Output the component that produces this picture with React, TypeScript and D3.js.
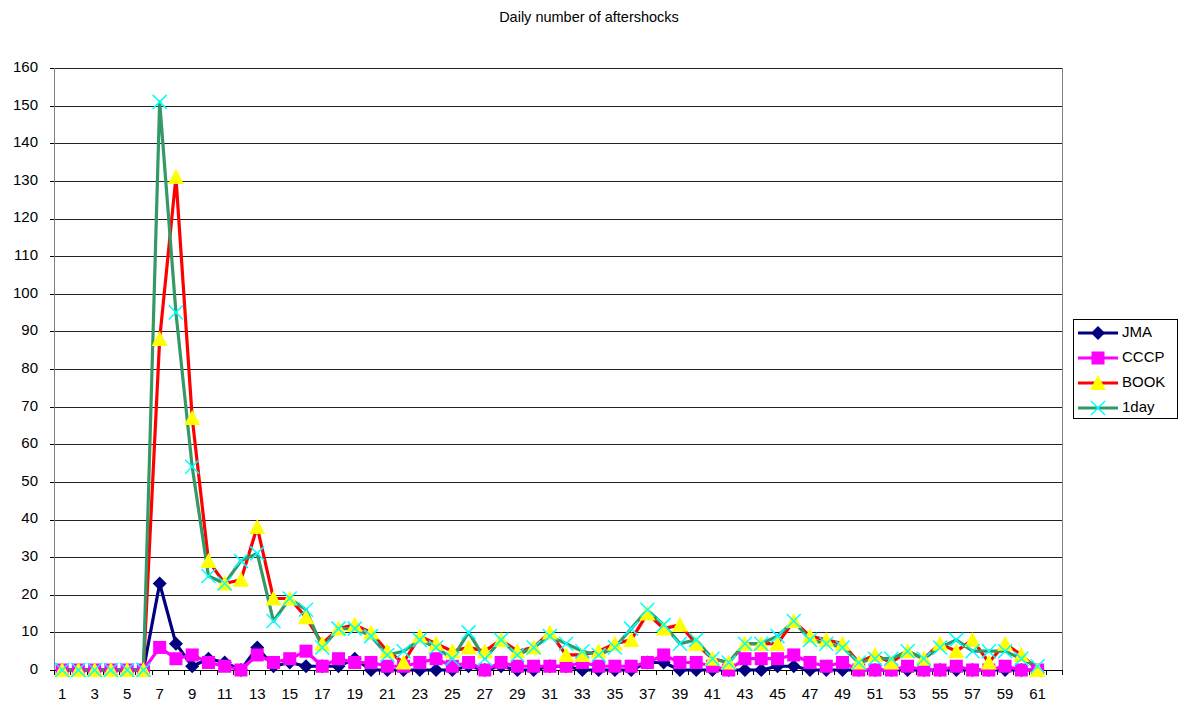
import React from "react";
import * as d3 from "d3";

// Day index along the x axis (one spare slot at the end, as in the sheet)
const categories: number[] = d3.range(1, 63);
const tickLabels: number[] = d3.range(1, 62, 2);
const yTicks: number[] = d3.range(0, 161, 10);

const jma: number[] = [
  0, 0, 0, 0, 0, 0, 23, 7, 1, 3, 2, 0, 6, 1, 2, 1, 1, 1, 3, 0,
  0, 0, 0, 0, 0, 1, 0, 1, 0, 0, 1, 1, 0, 0, 0, 0, 2, 2, 0, 0,
  0, 0, 0, 0, 1, 1, 0, 0, 0, 0, 0, 0, 0, 0, 0, 0, 0, 0, 0, 0, 0,
];
const cccp: number[] = [
  0, 0, 0, 0, 0, 0, 6, 3, 4, 2, 1, 0, 4, 2, 3, 5, 1, 3, 2, 2,
  1, 1, 2, 3, 1, 2, 0, 2, 1, 1, 1, 1, 2, 1, 1, 1, 2, 4, 2, 2,
  1, 0, 3, 3, 3, 4, 2, 1, 2, 0, 0, 0, 1, 0, 0, 1, 0, 0, 1, 0, 0,
];
const book: number[] = [
  0, 0, 0, 0, 0, 0, 88, 131, 67, 29, 23, 24, 38, 19, 19, 14, 7, 11, 12, 10,
  5, 2, 9, 7, 5, 6, 5, 8, 5, 6, 10, 4, 4, 5, 7, 8, 15, 11, 12, 7,
  3, 2, 7, 7, 7, 13, 9, 8, 7, 2, 4, 2, 5, 3, 7, 5, 8, 2, 7, 4, 0,
];
const oneDay: number[] = [
  0, 0, 0, 0, 0, 0, 151, 95, 54, 25, 23, 29, 31, 13, 19, 16, 6, 11, 11, 9,
  4, 5, 8, 6, 3, 10, 3, 8, 4, 6, 9, 7, 5, 4, 6, 11, 16, 12, 7, 8,
  3, 2, 7, 7, 9, 13, 8, 7, 6, 2, 3, 3, 5, 3, 6, 8, 5, 5, 5, 3, 1,
];

type MarkerKind = "diamond" | "square" | "triangle" | "cross";
interface Series {
  name: string;
  values: number[];
  line: string;
  marker: MarkerKind;
  fill: string;
}

const series: Series[] = [
  { name: "JMA", values: jma, line: "#000080", marker: "diamond", fill: "#000080" },
  { name: "CCCP", values: cccp, line: "#FF00FF", marker: "square", fill: "#FF00FF" },
  { name: "BOOK", values: book, line: "#FF0000", marker: "triangle", fill: "#FFFF00" },
  { name: "1day", values: oneDay, line: "#339966", marker: "cross", fill: "#00FFFF" },
];

const W = 1178;
const H = 707;
const plot = { left: 54, right: 1062, top: 68, bottom: 670 };
const FONT = "'Liberation Sans', Arial, sans-serif";

const x = d3
  .scaleBand<number>()
  .domain(categories)
  .range([plot.left, plot.right])
  .paddingInner(0)
  .paddingOuter(0);
const xc = (c: number) => (x(c) as number) + x.bandwidth() / 2;
const y = d3.scaleLinear().domain([0, 160]).range([plot.bottom, plot.top]);

function Marker({ kind, cx, cy, fill }: { kind: MarkerKind; cx: number; cy: number; fill: string }) {
  switch (kind) {
    case "diamond":
      return (
        <path
          d={`M${cx},${cy - 7}L${cx + 7},${cy}L${cx},${cy + 7}L${cx - 7},${cy}Z`}
          fill={fill}
        />
      );
    case "square":
      return <rect x={cx - 6.5} y={cy - 6.5} width={13} height={13} fill={fill} />;
    case "triangle":
      return (
        <path
          d={`M${cx},${cy - 8}L${cx + 8},${cy + 7}L${cx - 8},${cy + 7}Z`}
          fill={fill}
        />
      );
    case "cross":
      return (
        <path
          d={`M${cx - 7},${cy - 7}L${cx + 7},${cy + 7}M${cx - 7},${cy + 7}L${cx + 7},${cy - 7}`}
          stroke={fill}
          strokeWidth={1.5}
          fill="none"
        />
      );
  }
}

export default function App() {
  const line = d3
    .line<number>()
    .x((_, i) => xc(categories[i]))
    .y((v) => y(v));

  const legend = { x: 1073, y: 319, w: 104, h: 99 };

  return (
    <svg
      width={W}
      height={H}
      style={{ position: "absolute", left: 0, top: 0, background: "#fff" }}
      fontFamily={FONT}
    >
      <rect x={0} y={0} width={W} height={H} fill="#fff" />
      <text x={589} y={22} textAnchor="middle" fontSize={14.5} fill="#000">
        Daily number of aftershocks
      </text>

      {/* horizontal gridlines */}
      {yTicks.map((t) => (
        <line
          key={`g${t}`}
          x1={plot.left}
          x2={plot.right}
          y1={Math.round(y(t)) + 0.5}
          y2={Math.round(y(t)) + 0.5}
          stroke={t === 0 ? "#000" : "#222"}
          strokeWidth={1}
        />
      ))}
      {/* plot area frame */}
      <line x1={plot.right + 0.5} x2={plot.right + 0.5} y1={plot.top} y2={plot.bottom} stroke="#808080" />
      <line x1={plot.left + 0.5} x2={plot.left + 0.5} y1={plot.top} y2={plot.bottom + 0.5} stroke="#808080" />

      {/* y axis ticks and labels */}
      {yTicks.map((t) => (
        <g key={`y${t}`}>
          <line
            x1={plot.left - 4}
            x2={plot.left}
            y1={Math.round(y(t)) + 0.5}
            y2={Math.round(y(t)) + 0.5}
            stroke="#000"
          />
          <text
            x={38}
            y={y(t)}
            textAnchor="end"
            dominantBaseline="middle"
            fontSize={15}
            fill="#000"
          >
            {t}
          </text>
        </g>
      ))}

      {/* x axis ticks and labels */}
      {categories.map((c) => (
        <line
          key={`xt${c}`}
          x1={Math.round(x(c) as number) + 0.5}
          x2={Math.round(x(c) as number) + 0.5}
          y1={plot.bottom}
          y2={plot.bottom + 5}
          stroke="#000"
        />
      ))}
      <line
        x1={plot.right + 0.5}
        x2={plot.right + 0.5}
        y1={plot.bottom}
        y2={plot.bottom + 5}
        stroke="#000"
      />
      {tickLabels.map((c) => (
        <text
          key={`xl${c}`}
          x={xc(c)}
          y={695}
          textAnchor="middle"
          dominantBaseline="middle"
          fontSize={15}
          fill="#000"
        >
          {c}
        </text>
      ))}

      {/* series lines */}
      {series.map((s) => (
        <path
          key={`l${s.name}`}
          d={line(s.values) || ""}
          fill="none"
          stroke={s.line}
          strokeWidth={3.2}
          strokeLinejoin="round"
        />
      ))}
      {/* series markers */}
      {series.map((s) => (
        <g key={`m${s.name}`}>
          {s.values.map((v, i) => (
            <Marker key={i} kind={s.marker} cx={xc(categories[i])} cy={y(v)} fill={s.fill} />
          ))}
        </g>
      ))}

      {/* legend */}
      <rect
        x={legend.x + 0.5}
        y={legend.y + 0.5}
        width={legend.w}
        height={legend.h}
        fill="#fff"
        stroke="#000"
      />
      {series.map((s, i) => {
        const ly = 333 + i * 25;
        return (
          <g key={`lg${s.name}`}>
            <line x1={1078} x2={1118} y1={ly} y2={ly} stroke={s.line} strokeWidth={3.2} />
            <Marker kind={s.marker} cx={1098} cy={ly} fill={s.fill} />
            <text x={1122} y={ly} dominantBaseline="middle" fontSize={15} fill="#000">
              {s.name}
            </text>
          </g>
        );
      })}
    </svg>
  );
}
